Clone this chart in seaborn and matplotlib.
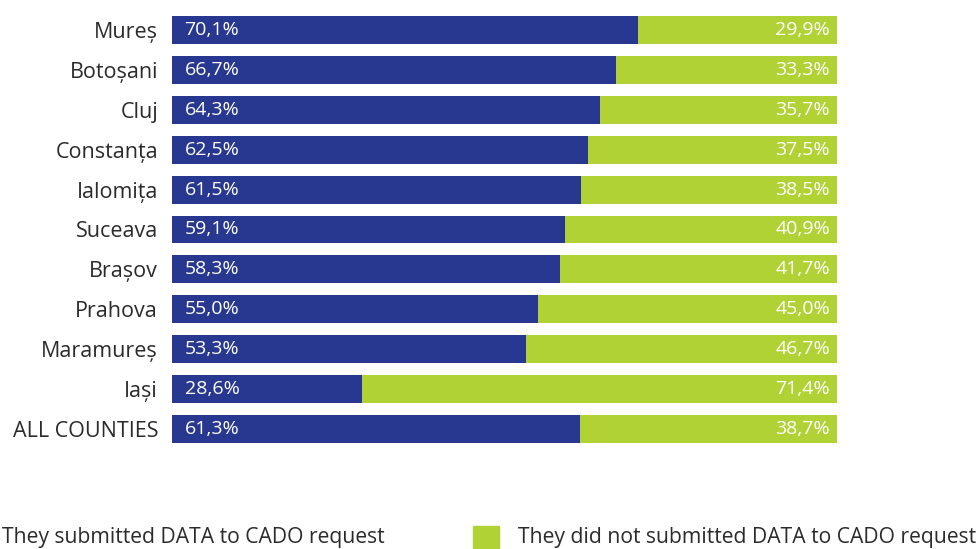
import matplotlib
matplotlib.use("Agg")
import matplotlib.pyplot as plt
from matplotlib.patches import Rectangle
import seaborn as sns
import pandas as pd

counties = ["Mureș", "Botoșani", "Cluj", "Constanța", "Ialomița", "Suceava",
            "Brașov", "Prahova", "Maramureș", "Iași", "ALL COUNTIES"]
submitted = [70.1, 66.7, 64.3, 62.5, 61.5, 59.1, 58.3, 55.0, 53.3, 28.6, 61.3]
not_submitted = [29.9, 33.3, 35.7, 37.5, 38.5, 40.9, 41.7, 45.0, 46.7, 71.4, 38.7]
legend_labels = ["They submitted DATA to CADO request",
                 "They did not submitted DATA to CADO request"]

BLUE = "#283891"
GREEN = "#b1d235"
TEXT = "#2b2b2b"

sns.set_theme(style="white")
plt.rcParams["font.family"] = ["Open Sans", "DejaVu Sans"]

df = pd.DataFrame({"county": counties,
                   "submitted": submitted,
                   "not_submitted": not_submitted})
df["total"] = df["submitted"] + df["not_submitted"]

W, H = 980, 549
fig = plt.figure(figsize=(W / 100, H / 100), dpi=100)
ax = fig.add_axes([172 / W, 1 - 449 / H, (837 - 172) / W, (449 - 10) / H])

# stacked bars: full-length green underneath, blue share on top
sns.barplot(data=df, x="total", y="county", orient="h", color=GREEN,
            width=0.7, saturation=1, linewidth=0, ax=ax)
sns.barplot(data=df, x="submitted", y="county", orient="h", color=BLUE,
            width=0.7, saturation=1, linewidth=0, ax=ax)

ax.set_xlim(0, 100)
ax.set_ylim(10.5, -0.5)
ax.set_xlabel("")
ax.set_ylabel("")
ax.set_xticks([])
for s in ax.spines.values():
    s.set_visible(False)
ax.tick_params(axis="y", length=0, pad=10, labelsize=15.5, labelcolor=TEXT)

fmt = lambda v: f"{v:.1f}%".replace(".", ",")
for i, (a, b) in enumerate(zip(submitted, not_submitted)):
    ax.annotate(fmt(a), (0, i), xytext=(9, 0), textcoords="offset points",
                ha="left", va="center", color="white", fontsize=14)
    ax.annotate(fmt(b), (a + b, i), xytext=(-5, 0), textcoords="offset points",
                ha="right", va="center", color="white", fontsize=14)

# legend row along the bottom edge
for x0, col, lab in [(-43, BLUE, legend_labels[0]), (473, GREEN, legend_labels[1])]:
    fig.patches.append(Rectangle((x0 / W, 1 - 552 / H), 26 / W, 26 / H,
                                 transform=fig.transFigure, color=col))
    fig.text((x0 + 45) / W, 1 - 538 / H, lab, ha="left", va="center",
             fontsize=15.2, color=TEXT)

fig.savefig("out.png", dpi=100)
